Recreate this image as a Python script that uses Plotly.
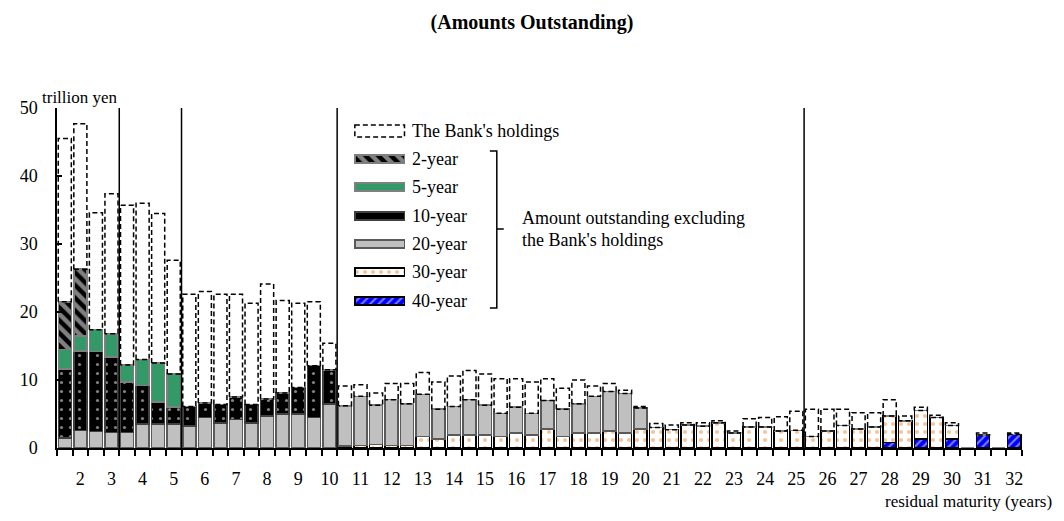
import numpy as np
import plotly.graph_objects as go

# half-year buckets of residual maturity, 1.0-1.5, 1.5-2.0, ... 31.5-32.0 years
bucket_mid = np.arange(1.25, 32.0, 0.5)

# trillion yen
two_year = [7.0, 9.8] + [0] * 60
five_year = [2.9, 2.2, 3.2, 3.4, 2.5, 3.8, 5.7, 4.9] + [0] * 54
ten_year = [10.1, 11.7, 11.8, 11.1, 7.4, 5.7, 3.3, 2.5, 2.9, 2.1, 2.7, 3.3, 2.7, 2.5,
            3.1, 3.9, 7.6, 5.0] + [0] * 44
twenty_year = [1.5, 2.6, 2.4, 2.3, 2.3, 3.5, 3.5, 3.5, 3.2, 4.5, 3.7, 4.2, 3.7, 4.7,
               5.0, 5.0, 4.5, 6.5,
               5.9, 7.2, 5.8, 6.7, 6.1, 6.2, 4.4, 4.2, 5.2, 4.4, 3.4, 3.8, 3.2, 4.2,
               4.0, 4.3, 5.4, 5.8, 5.8, 3.1] + [0] * 24
thirty_year = [0] * 18 + [0.3, 0.4, 0.5, 0.4, 0.4, 1.7, 1.3, 1.9, 1.9, 1.9, 1.7, 2.2,
                          1.9, 2.8, 1.7, 2.2, 2.2, 2.5, 2.2, 2.8,
                          3.0, 2.7, 3.4, 3.2, 3.7, 2.2, 3.1, 3.1, 2.5, 2.6, 1.7, 2.5,
                          3.3, 2.8, 3.1, 3.9, 4.0, 4.2, 4.5, 2.0, 0, 0, 0, 0]
forty_year = [0] * 53 + [0.8, 0, 1.3, 0, 1.3, 0, 1.9, 0, 2.0]
boj_holdings = [24.0, 21.4, 17.2, 20.6, 23.5, 23.0, 22.0, 16.7, 16.5, 16.4, 16.2, 15.1,
                14.9, 16.9, 13.6, 12.4, 9.4, 3.9,
                2.9, 1.7, 1.8, 2.4, 3.0, 3.2, 4.0, 4.5, 4.3, 4.6, 5.1, 4.2, 4.6, 3.2,
                3.1, 3.5, 1.5, 1.2, 0.5, 0.2,
                0.6, 0.7, 0.3, 0.5, 0.3, 0.3, 1.2, 1.4, 2.1, 2.8, 4.0, 3.2, 2.4, 2.4,
                2.1, 2.4, 0.7, 0.5, 0.3, 0.4, 0, 0.3, 0, 0.2]

year_labels = list(range(2, 33))
divider_years = [3, 5, 10, 25]

FONT = "Liberation Serif"
BAR_W = 0.42
# the page body adds 8px all round, so keep the figure inside the 1064x521 window
W, H = 1048, 505

# (name, values, fill, pattern, outline) -- bottom of stack first
series = [
    ("40-year", forty_year, "#0000FF", dict(shape="/", fgcolor="white", bgcolor="#0000FF", size=6, solidity=0.35), "#000000"),
    ("30-year", thirty_year, "white", dict(shape=".", fgcolor="#F08C38", bgcolor="white", size=8, solidity=0.22), "#000000"),
    ("20-year", twenty_year, "#C0C0C0", None, "#5A5A5A"),
    ("10-year", ten_year, "black", dict(shape=".", fgcolor="white", bgcolor="black", size=9, solidity=0.1), "#404040"),
    ("5-year", five_year, "#339966", None, "#7F7F7F"),
    ("2-year", two_year, "black", dict(shape="\\", fgcolor="white", bgcolor="black", size=9, solidity=0.5), "#7F7F7F"),
]

fig = go.Figure()
for name, vals, col, pat, edge in series:
    marker = dict(color=col, line=dict(color=edge, width=1.5))
    if pat:
        marker["pattern"] = pat
    fig.add_trace(go.Bar(x=bucket_mid, y=vals, width=BAR_W, name=name, marker=marker,
                         showlegend=False, hoverinfo="skip"))

fig.add_trace(go.Bar(x=bucket_mid, y=boj_holdings, width=BAR_W, name="The Bank's holdings",
                     marker=dict(color="rgba(255,255,255,0)", line=dict(width=0)),
                     showlegend=False, hoverinfo="skip"))

# dashed outline for the Bank's holdings, sitting on top of each stack
base = np.sum([s[1] for s in series], axis=0)
top = base + np.array(boj_holdings)
ox, oy = [], []
for xm, b, t, h in zip(bucket_mid, base, top, boj_holdings):
    if h <= 0:
        continue
    x0, x1 = xm - BAR_W / 2, xm + BAR_W / 2
    ox += [x0, x0, x1, x1, x0, None]
    oy += [b, t, t, b, b, None]
fig.add_trace(go.Scatter(x=ox, y=oy, mode="lines", showlegend=False, hoverinfo="skip",
                         line=dict(color="black", width=1.5, dash="5px,3px")))

# custom legend, drawn on an overlay axis in (window) pixel units
leg_rows = [("2-year", 159), ("5-year", 187), ("10-year", 216), ("20-year", 244),
            ("30-year", 272), ("40-year", 301)]
legend_style = {s[0]: s for s in series}
for name, yy in leg_rows:
    _, _, col, pat, edge = legend_style[name]
    marker = dict(color=col, line=dict(color=edge, width=1.5))
    if pat:
        marker["pattern"] = pat
    fig.add_trace(go.Bar(x=[50], y=[yy], base=[350], width=[8], orientation="h",
                         marker=marker, xaxis="x2", yaxis="y2", showlegend=False,
                         hoverinfo="skip"))
    fig.add_annotation(x=406, y=yy, xref="x2", yref="y2", text=name, showarrow=False,
                       xanchor="left", yanchor="middle", font=dict(size=18))
fig.add_annotation(x=406, y=131, xref="x2", yref="y2", text="The Bank's holdings",
                   showarrow=False, xanchor="left", yanchor="middle", font=dict(size=18))
fig.add_shape(type="rect", x0=350, x1=400, y0=125, y1=137, xref="x2", yref="y2",
              line=dict(color="black", width=1.5, dash="5px,3px"))
fig.add_shape(type="path", xref="x2", yref="y2",
              path="M 486 151 L 493 151 L 493 308 L 486 308 M 493 229 L 500 229",
              line=dict(color="black", width=1.5))
fig.add_annotation(x=516, y=218, xref="x2", yref="y2", text="Amount outstanding excluding",
                   showarrow=False, xanchor="left", yanchor="middle", font=dict(size=18))
fig.add_annotation(x=516, y=240, xref="x2", yref="y2", text="the Bank's holdings",
                   showarrow=False, xanchor="left", yanchor="middle", font=dict(size=18))

for yr in divider_years:
    fig.add_shape(type="line", x0=yr, x1=yr, y0=0, y1=50, xref="x", yref="y",
                  line=dict(color="black", width=1.5))

fig.add_annotation(x=-0.018, y=1.032, xref="paper", yref="paper", text="trillion yen",
                   showarrow=False, xanchor="left", yanchor="middle", font=dict(size=17))
fig.add_annotation(x=1.033, y=-0.158, xref="paper", yref="paper",
                   text="residual maturity (years)", showarrow=False,
                   xanchor="right", yanchor="middle", font=dict(size=17))

fig.update_layout(
    width=W, height=H,
    margin=dict(l=42, r=34, t=100, b=65),
    barmode="stack",
    paper_bgcolor="white", plot_bgcolor="white",
    font=dict(family=FONT, size=18, color="black"),
    title=dict(text="<b>(Amounts Outstanding)</b>", x=524 / W, xanchor="center",
               y=1 - 14 / H, yanchor="middle", font=dict(size=20)),
    xaxis=dict(range=[1, 32], tickmode="array", tickvals=[n - 0.25 for n in year_labels],
               ticktext=[str(n) for n in year_labels], ticks="", ticklabelstandoff=14,
               showline=True, linecolor="black", linewidth=1.5, showgrid=False,
               zeroline=False,
               minor=dict(tickmode="array", tickvals=list(np.arange(1, 32.01, 0.5)),
                          ticks="outside", ticklen=6, tickwidth=1.5, tickcolor="black")),
    yaxis=dict(range=[0, 50], tickvals=[0, 10, 20, 30, 40, 50], ticks="inside", ticklen=5,
               tickwidth=1.5, tickcolor="black", ticklabelstandoff=14,
               showline=True, linecolor="black", linewidth=1.5, showgrid=False,
               zeroline=False),
    xaxis2=dict(overlaying="x", range=[50, 1022], visible=False, fixedrange=True),
    yaxis2=dict(overlaying="y", range=[448, 108], visible=False, fixedrange=True),
)

fig.write_html("out.html")
